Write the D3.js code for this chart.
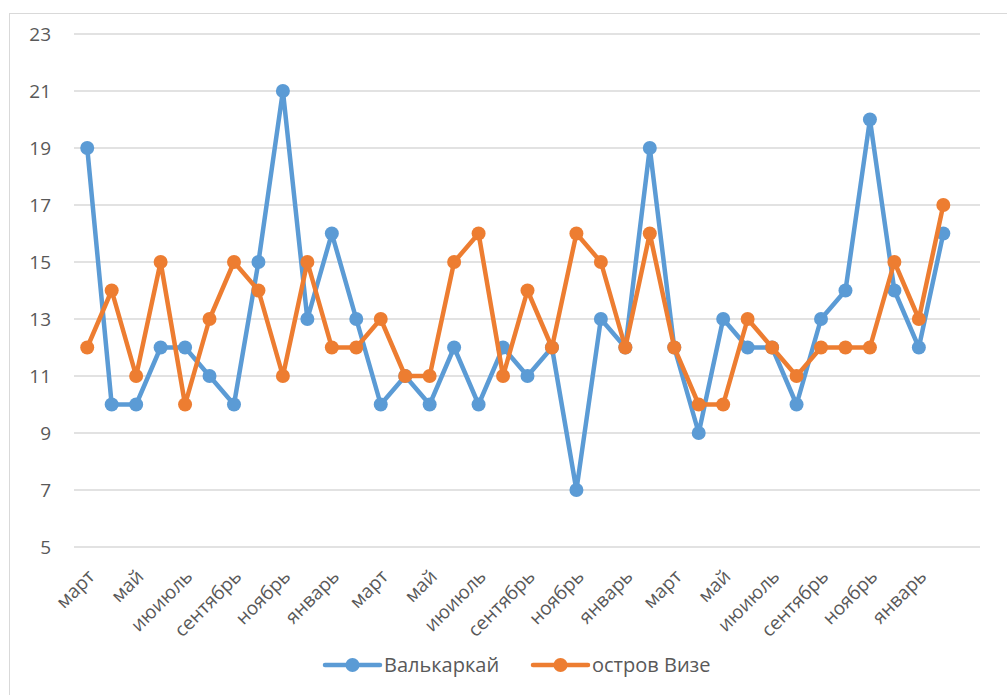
<!DOCTYPE html>
<html>
<head>
<meta charset="utf-8">
<script src="https://cdn.jsdelivr.net/npm/d3@7"></script>
<style>
  body { margin: 0; background: #fff; }
  text { font-family: "Open Sans", Lato, sans-serif; fill: #595959; }
</style>
</head>
<body>
<svg id="chart" width="1007" height="695"></svg>
<script>
// months, one per data point (last slot is empty, as in the original sheet)
var categories = ["март","апрель","май","июнь","июиюль","август","сентябрь","октябрь","ноябрь","декабрь","январь","февраль",
                  "март","апрель","май","июнь","июиюль","август","сентябрь","октябрь","ноябрь","декабрь","январь","февраль",
                  "март","апрель","май","июнь","июиюль","август","сентябрь","октябрь","ноябрь","декабрь","январь","февраль",
                  ""];
var valkarkai = [19,10,10,12,12,11,10,15,21,13,16,13,10,11,10,12,10,12,11,12,7,13,12,19,12,9,13,12,12,10,13,14,20,14,12,16];
var vize = [12,14,11,15,10,13,15,14,11,15,12,12,13,11,11,15,16,11,14,12,16,15,12,16,12,10,10,13,12,11,12,12,12,15,13,17];
var yTicks = [5,7,9,11,13,15,17,19,21,23];
var seriesNames = ["Валькаркай", "остров Визе"];
var colors = ["#5b9bd5", "#ed7d31"];

var svg = d3.select("#chart");

// outer frame
svg.append("rect")
    .attr("x", 9.5).attr("y", 13.5)
    .attr("width", 1010).attr("height", 700)
    .attr("fill", "none")
    .attr("stroke", "#d9d9d9");

var plotLeft = 75, plotRight = 980, plotTop = 34, plotBottom = 547;

var x = d3.scaleBand().domain(d3.range(categories.length)).range([plotLeft, plotRight]);
var y = d3.scaleLinear().domain([5, 23]).range([plotBottom, plotTop]);

// gridlines
svg.append("g").selectAll("line")
    .data(yTicks)
    .enter().append("line")
    .attr("x1", plotLeft - 1).attr("x2", plotRight)
    .attr("y1", function(d) { return y(d); })
    .attr("y2", function(d) { return y(d); })
    .attr("stroke", "#d9d9d9")
    .attr("stroke-width", 1.3);

// y axis labels
var yAxis = d3.axisLeft(y).tickValues(yTicks).tickSize(0).tickPadding(0);
var gy = svg.append("g").attr("transform", "translate(51,0)").call(yAxis);
gy.select(".domain").remove();
gy.selectAll("text")
    .style("font-size", "19px")
    .style("font-family", "'Open Sans', sans-serif")
    .attr("dy", "0.35em")
    .attr("fill", "#595959");

// x axis labels, every other month
var xAxis = d3.axisBottom(x)
    .tickValues(d3.range(0, categories.length, 2))
    .tickFormat(function(i) { return categories[i]; })
    .tickSize(0);
var gx = svg.append("g").attr("transform", "translate(0," + plotBottom + ")").call(xAxis);
gx.select(".domain").remove();
gx.selectAll("text")
    .style("font-size", "19px")
    .style("font-family", "'Open Sans', sans-serif")
    .attr("fill", "#595959")
    .attr("text-anchor", "end")
    .attr("transform", "translate(4,26) rotate(-45)")
    .attr("y", 0).attr("dy", "0.35em");

function cx(d, i) { return x(i) + x.bandwidth() / 2; }

var line = d3.line()
    .x(function(d, i) { return cx(d, i); })
    .y(function(d) { return y(d); });

[valkarkai, vize].forEach(function(series, k) {
    var g = svg.append("g");
    g.append("path")
        .attr("d", line(series))
        .attr("fill", "none")
        .attr("stroke", colors[k])
        .attr("stroke-width", 4.5)
        .attr("stroke-linejoin", "round");
    g.selectAll("circle")
        .data(series)
        .enter().append("circle")
        .attr("cx", cx)
        .attr("cy", function(d) { return y(d); })
        .attr("r", 7)
        .attr("fill", colors[k]);
});

// legend
var legendX = [325, 533];
seriesNames.forEach(function(name, k) {
    var g = svg.append("g").attr("transform", "translate(" + legendX[k] + ",665)");
    g.append("line")
        .attr("x1", 0).attr("x2", 55)
        .attr("stroke", colors[k])
        .attr("stroke-width", 4.5)
        .attr("stroke-linecap", "round");
    g.append("circle").attr("cx", 27.5).attr("r", 7).attr("fill", colors[k]);
    g.append("text")
        .attr("x", 59).attr("dy", "0.35em")
        .style("font-size", "20px")
        .text(name);
});
</script>
</body>
</html>
